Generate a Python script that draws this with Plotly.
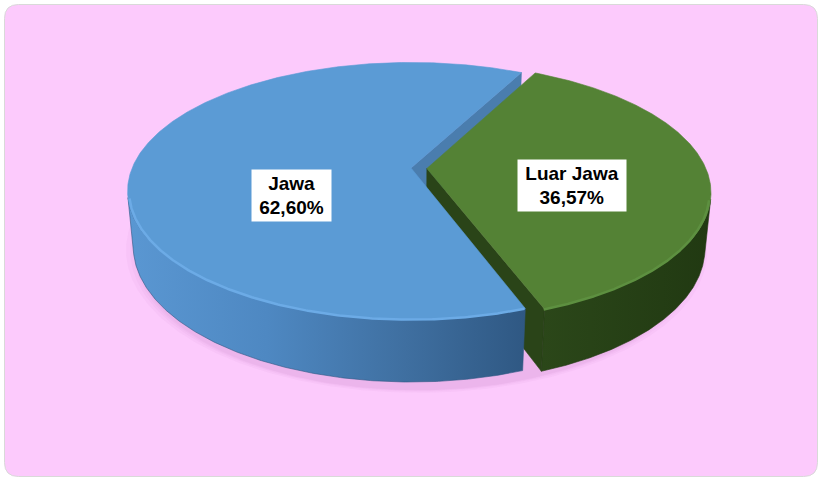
import numpy as np
import plotly.graph_objects as go

# Share of the total by region
regions = ["Jawa", "Luar Jawa"]
shares = [62.60, 36.57]

# Slice styling
top_colors = ["#5B9BD5", "#548235"]
side_scales = [
    [[0, "#5A97D2"], [0.35, "#4E88C2"], [0.7, "#3F6FA0"], [1, "#2F5883"]],
    [[0, "#2B4719"], [1, "#213912"]],
]
face_colors = ["#4A7DAE", "#2A4418"]
rim_colors = ["#6CABE6", "#5D9040"]
explode = [0.0, 0.057]

W, H = 818, 477

# Perspective camera for the tilted pie (unit radius disc)
CX, CY = 411.0, 168.0
SCALE = 1400.0
DIST = 5.02
SIN_A = 0.446
COS_A = np.sqrt(1 - SIN_A ** 2)
THICK = 0.2233
START_DEG = 62.7
CAM = np.array([0.0, -DIST * COS_A, DIST * SIN_A])


def project(X, Y, Z):
    X, Y, Z = (np.asarray(v, dtype=float) for v in (X, Y, Z))
    depth = DIST + Y * COS_A - Z * SIN_A
    up = Y * SIN_A + Z * COS_A
    return CX + SCALE * X / depth, CY - SCALE * up / depth


total = sum(shares)
spans = [s / total * 2 * np.pi for s in shares]
start = np.deg2rad(START_DEG)
angles = [(start, start + spans[0]), (start - spans[1], start)]
offsets = []
for (a0, a1), e in zip(angles, explode):
    mid = 0.5 * (a0 + a1)
    offsets.append((e * np.cos(mid), e * np.sin(mid)))

fig = go.Figure()


def add_poly(xs, ys, color=None, gradient=None, edge=0.6):
    kw = dict(x=list(xs) + [xs[0]], y=list(ys) + [ys[0]], mode="lines",
              fill="toself", line=dict(width=edge, color=color or gradient[-1][1]),
              hoverinfo="skip", showlegend=False)
    if gradient is not None:
        kw["fillgradient"] = dict(type="horizontal", colorscale=gradient)
    else:
        kw["fillcolor"] = color
    fig.add_trace(go.Scatter(**kw))


# Soft shadow below the disc (whole outline, layered to fake a blur)
for k, grow in enumerate([0.045, 0.03, 0.018, 0.008]):
    t = np.linspace(0, 2 * np.pi, 400)
    r = 1.0 + grow
    xs, ys = project(0.02 + r * np.cos(t), r * np.sin(t), np.full(t.size, -THICK))
    add_poly(xs, ys + 2 + 1.5 * k, color="rgba(140,60,140,0.035)", edge=0)


def radial_face(i, at_start):
    a0, a1 = angles[i]
    ox, oy = offsets[i]
    a = a0 if at_start else a1
    n = np.array([np.sin(a), -np.cos(a)]) if at_start else np.array([-np.sin(a), np.cos(a)])
    v = CAM[:2] - np.array([ox, oy])
    if v @ n <= 0:
        return
    X = [ox, ox + np.cos(a), ox + np.cos(a), ox]
    Y = [oy, oy + np.sin(a), oy + np.sin(a), oy]
    Z = [0, 0, -THICK, -THICK]
    xs, ys = project(X, Y, Z)
    add_poly(xs, ys, color=face_colors[i])


def side_and_top(i):
    a0, a1 = angles[i]
    ox, oy = offsets[i]
    t = np.linspace(a0, a1, 600)
    xr, yr = ox + np.cos(t), oy + np.sin(t)
    vis = (CAM[0] - xr) * np.cos(t) + (CAM[1] - yr) * np.sin(t) > 0
    tv = t[vis]
    if tv.size > 1:
        xt, yt = project(ox + np.cos(tv), oy + np.sin(tv), np.zeros_like(tv))
        xb, yb = project(ox + np.cos(tv), oy + np.sin(tv), np.full_like(tv, -THICK))
        add_poly(np.r_[xt, xb[::-1]], np.r_[yt, yb[::-1]], gradient=side_scales[i])
    # top face
    xs, ys = project(np.r_[ox, xr], np.r_[oy, yr], np.zeros(t.size + 1))
    add_poly(xs, ys, color=top_colors[i])
    # bevel highlight along the front rim
    if tv.size > 1:
        xh, yh = project(ox + 0.995 * np.cos(tv), oy + 0.995 * np.sin(tv), np.full_like(tv, -0.004))
        fig.add_trace(go.Scatter(x=xh, y=yh, mode="lines", hoverinfo="skip", showlegend=False,
                                 line=dict(color=rim_colors[i], width=2.5)))


# Paint back to front
radial_face(0, True)
radial_face(1, True)
side_and_top(0)
side_and_top(1)

# Data labels
label_pos = [(291.5, 195.5), (572.0, 185.5)]
label_w = [73, 102]
for name, val, (lx, ly), w in zip(regions, shares, label_pos, label_w):
    fig.add_annotation(
        x=lx, y=ly, xref="x", yref="y", showarrow=False,
        text=f"<b>{name}<br>{val:.2f}%</b>".replace(".", ","),
        font=dict(family="Liberation Sans, Arial, sans-serif", size=19, color="black"),
        bgcolor="white", borderpad=3, width=w, height=45, align="center",
    )

# Rounded chart area
x0, y0, x1, y1, r = 4.5, 4.5, 817.5, 476.5, 14
path = (f"M {x0 + r},{y0} L {x1 - r},{y0} Q {x1},{y0} {x1},{y0 + r} "
        f"L {x1},{y1 - r} Q {x1},{y1} {x1 - r},{y1} L {x0 + r},{y1} "
        f"Q {x0},{y1} {x0},{y1 - r} L {x0},{y0 + r} Q {x0},{y0} {x0 + r},{y0} Z")
fig.add_shape(type="path", path=path, xref="x", yref="y", layer="below",
              fillcolor="#FCCAFC", line=dict(color="#D9D9D9", width=1))

fig.update_layout(
    width=W, height=H, margin=dict(l=0, r=0, t=0, b=0),
    paper_bgcolor="white", plot_bgcolor="rgba(0,0,0,0)",
    showlegend=False, hovermode=False,
    xaxis=dict(range=[0, W], visible=False, fixedrange=True),
    yaxis=dict(range=[H, 0], visible=False, fixedrange=True),
)

fig.write_html("out.html")
